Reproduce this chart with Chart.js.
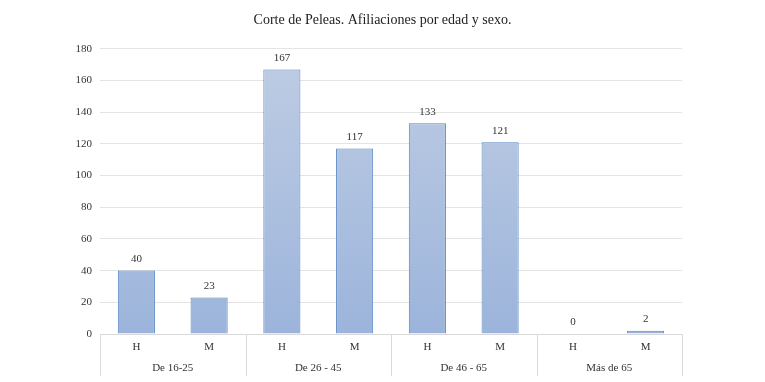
<!DOCTYPE html>
<html><head><meta charset="utf-8">
<script src="https://cdn.jsdelivr.net/npm/chart.js@4/dist/chart.umd.min.js"></script>
<style>html,body{margin:0;padding:0;background:#fff;}#wrap{width:765px;height:382px;}</style>
</head><body><div id="wrap"><canvas id="c"></canvas></div>
<script>
const categories = ["H","M","H","M","H","M","H","M"];
const groups = ["De 16-25","De 26 - 45","De 46 - 65","Más de 65"];
const values = [40,23,167,117,133,121,0,2];
const yTicks = [0,20,40,60,80,100,120,140,160,180];
const titleText = "Corte de Peleas. Afiliaciones por edad y sexo.";

const FONT = "'Liberation Serif', 'DejaVu Serif', serif";

const valueLabels = {
  id:'valueLabels',
  afterDatasetsDraw(chart){
    const ctx = chart.ctx;
    const meta = chart.getDatasetMeta(0);
    ctx.save();
    ctx.font = "11px " + FONT;
    ctx.fillStyle = "#333";
    ctx.textAlign = "center";
    ctx.textBaseline = "bottom";
    meta.data.forEach((bar,i)=>{
      ctx.fillText(String(values[i]), bar.x, bar.y - 6);
    });
    ctx.restore();
  }
};
const separators = {
  id:'separators',
  afterDraw(chart){
    const ctx = chart.ctx;
    const x = chart.scales.x;
    const a = chart.chartArea;
    const step = x.getPixelForValue(1) - x.getPixelForValue(0);
    ctx.save();
    ctx.strokeStyle = "#d9d9d9";
    ctx.lineWidth = 1;
    ctx.beginPath();
    ctx.moveTo(a.left, a.bottom + 0.5);
    ctx.lineTo(a.right, a.bottom + 0.5);
    for(let g=0; g<=groups.length; g++){
      const px = Math.round(x.getPixelForValue(g*2) - step/2) + 0.5;
      ctx.moveTo(px, a.bottom);
      ctx.lineTo(px, a.bottom + 42);
    }
    ctx.stroke();
    ctx.restore();
  }
};

new Chart(document.getElementById('c'), {
  type:'bar',
  data:{
    labels: categories,
    datasets:[{
      data: values,
      backgroundColor(ctx){
        const ch = ctx.chart; const a = ch.chartArea;
        if(!a) return '#a9bfe0';
        const g = ch.ctx.createLinearGradient(0, a.top, 0, a.bottom);
        g.addColorStop(0, '#bfcde4');
        g.addColorStop(1, '#9cb4db');
        return g;
      },
      borderColor:'#5585c4',
      borderWidth:1,
      barPercentage:0.51,
      categoryPercentage:1.0
    }]
  },
  options:{
    responsive:true,
    maintainAspectRatio:false,
    animation:false,
    layout:{padding:{left:0,right:0,top:4,bottom:4}},
    plugins:{
      legend:{display:false},
      tooltip:{enabled:false},
      title:{display:true,text:titleText,color:'#222',font:{family:FONT,size:14,weight:'normal'},padding:{top:8,bottom:20}}
    },
    scales:{
      x:{
        grid:{display:false,drawTicks:false,tickLength:0},
        border:{display:false},
        ticks:{color:'#333',font:{family:FONT,size:11},padding:7,maxRotation:0},
        afterFit(s){ s.height = 24; }
      },
      x2:{
        type:'category',
        labels: groups,
        position:'bottom',
        grid:{display:false,drawTicks:false,tickLength:0},
        border:{display:false},
        ticks:{color:'#333',font:{family:FONT,size:11},padding:4,maxRotation:0},
        afterFit(s){ s.height = 20; }
      },
      y:{
        min:0,max:180,
        afterBuildTicks(s){ s.ticks = yTicks.map(v=>({value:v})); },
        grid:{color:'#e4e4e4',drawTicks:false},
        border:{display:false},
        ticks:{color:'#333',font:{family:FONT,size:11},padding:8},
        afterFit(s){ s.width = 100; }
      },
      yR:{
        position:'right',
        display:true,
        grid:{display:false,drawTicks:false},
        border:{display:false},
        ticks:{display:false},
        afterFit(s){ s.width = 83; }
      }
    }
  },
  plugins:[valueLabels, separators]
});
</script></body></html>
